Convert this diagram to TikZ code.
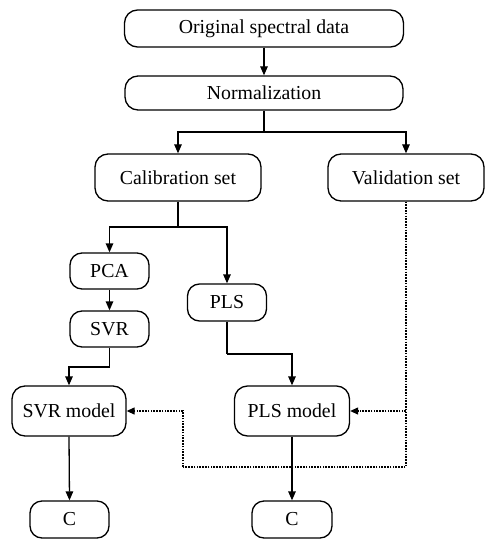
\documentclass[tikz,border=0pt]{standalone}
\usepackage{fontspec}
\setmainfont{Liberation Serif}
\usetikzlibrary{arrows.meta}
\begin{document}
\begin{tikzpicture}[x=1pt,y=-1pt,
  box/.style={draw, line width=1.3pt, rounded corners=13pt, inner sep=0pt,
    font=\fontsize{19.8}{22}\selectfont},
  arr/.style={line width=1.3pt, -{Triangle[length=9pt,width=7.5pt]}},
  dotarr/.style={line width=1.2pt, dash pattern=on 1.6pt off 1.2pt, -{Triangle[length=8pt,width=7pt]}},
  dotline/.style={line width=1.2pt, dash pattern=on 1.6pt off 1.2pt}]
\useasboundingbox (0,0) rectangle (484,540);
\node[box, minimum width=279pt, minimum height=37pt] (orig) at (264,28.5) {Original spectral data};
\node[box, minimum width=278pt, minimum height=34pt] (norm) at (264,93) {Normalization};
\node[box, minimum width=166pt, minimum height=47pt] (calib) at (178,177.5) {Calibration set};
\node[box, minimum width=156pt, minimum height=47pt] (valid) at (406,177.5) {Validation set};
\node[box, minimum width=79pt, minimum height=36pt, rounded corners=12pt] (pca) at (109.5,271) {PCA};
\node[box, minimum width=79pt, minimum height=36pt, rounded corners=12pt] (svr) at (109.5,329) {SVR};
\node[box, minimum width=79pt, minimum height=37pt, rounded corners=12pt] (pls) at (227,302.5) {PLS};
\node[box, minimum width=114pt, minimum height=50pt] (svrm) at (69,411) {SVR model};
\node[box, minimum width=115pt, minimum height=50pt] (plsm) at (292,411) {PLS model};
\node[box, minimum width=79pt, minimum height=37pt, rounded corners=12pt] (c1) at (69.5,519.5) {C};
\node[box, minimum width=80pt, minimum height=37pt, rounded corners=12pt] (c2) at (292,519.5) {C};
\coordinate (nsplit) at (264,132);
\coordinate (csplit) at (178,227);
\coordinate (svrb) at (109.5,367);
\coordinate (plsb) at (227,354);
\coordinate (dc) at (183,467);
\draw[arr] (orig.south) -- (norm.north);
\draw[line width=1.3pt] (norm.south) -- (nsplit);
\draw[arr] (nsplit) -| (calib.north);
\draw[arr] (nsplit) -| (valid.north);
\draw[line width=1.3pt] (calib.south) -- (csplit);
\draw[arr] (csplit) -| (pca.north);
\draw[arr] (csplit) -| (pls.north);
\draw[arr] (pca.south) -- (svr.north);
\draw[line width=1.3pt] (svr.south) -- (svrb);
\draw[arr] (svrb) -| (svrm.north);
\draw[line width=1.3pt] (pls.south) -- (plsb);
\draw[arr] (plsb) -| (plsm.north);
\draw[arr] (svrm.south) -- (c1.north);
\draw[arr] (plsm.south) -- (c2.north);
\draw[dotline] (valid.south) |- (dc);
\draw[dotarr] (dc) |- (svrm.east);
\draw[dotarr] (valid.south |- plsm.east) -- (plsm.east);
\end{tikzpicture}
\end{document}
